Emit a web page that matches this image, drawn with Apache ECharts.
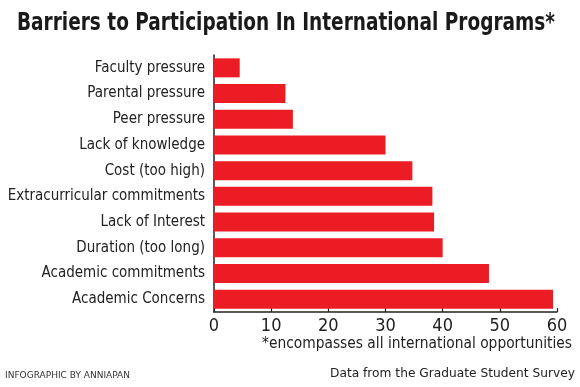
<!DOCTYPE html>
<html><head><meta charset="utf-8">
<script src="https://cdn.jsdelivr.net/npm/echarts@6/dist/echarts.min.js"></script>
<style>html,body{margin:0;padding:0;background:#fff}#c{width:580px;height:387px}</style>
</head><body><div id="c"></div>
<script>
const categories = ["Faculty pressure","Parental pressure","Peer pressure","Lack of knowledge","Cost (too high)","Extracurricular commitments","Lack of Interest","Duration (too long)","Academic commitments","Academic Concerns"];
const values = [4.5,12.5,13.8,30.0,34.7,38.2,38.5,40.0,48.1,59.3];
const xTicks = [0,10,20,30,40,50,60];
const titleText = "Barriers to Participation In International Programs*";
const footnote = "*encompasses all international opportunities";
const source = "Data from the Graduate Student Survey";
const credit = "INFOGRAPHIC BY ANNIAPAN";

const FAM = '"DejaVu Sans Condensed","DejaVu Sans",sans-serif';
const mctx = document.createElement('canvas').getContext('2d');
function fitText(text, font, left, top, targetW, fill) {
  mctx.font = font;
  const w = mctx.measureText(text).width;
  return {type:'text', x:left, y:top, scaleX: targetW / w,
    style:{text:text, font:font, fill:fill, textAlign:'left', textVerticalAlign:'top', verticalAlign:'top'}};
}

const chart = echarts.init(document.getElementById('c'), null, {renderer:'canvas'});
chart.setOption({
  animation:false,
  backgroundColor:'#fff',
  graphic:[
    fitText(titleText, 'bold 25px ' + FAM, 17, 11, 538, '#1a1a1a'),
    fitText(footnote, '16px ' + FAM, 262, 336, 310, '#222'),
    fitText(source, '12px ' + FAM, 330, 368, 245, '#222'),
    fitText(credit, '9px "DejaVu Sans",sans-serif', 5, 371, 125, '#333')
  ],
  grid:{left:214,right:23,top:55,bottom:75,containLabel:false,outerBoundsMode:'none'},
  xAxis:{type:'value',min:xTicks[0],max:xTicks[xTicks.length-1],interval:10,
    axisLine:{show:true,lineStyle:{color:'#222',width:1.5}},
    axisTick:{show:true,inside:true,length:4,lineStyle:{color:'#222',width:1.2}},
    splitLine:{show:false},
    axisLabel:{fontFamily:FAM,fontSize:18,color:'#222',margin:5}},
  yAxis:{type:'category',data:categories,inverse:true,
    axisLine:{show:true,lineStyle:{color:'#222',width:1.5}},
    axisTick:{show:false},
    axisLabel:{fontFamily:FAM,fontSize:15,color:'#222',margin:9}},
  series:[{type:'bar',data:values,barWidth:19,itemStyle:{color:'#ec1c24'}}]
});
</script></body></html>
